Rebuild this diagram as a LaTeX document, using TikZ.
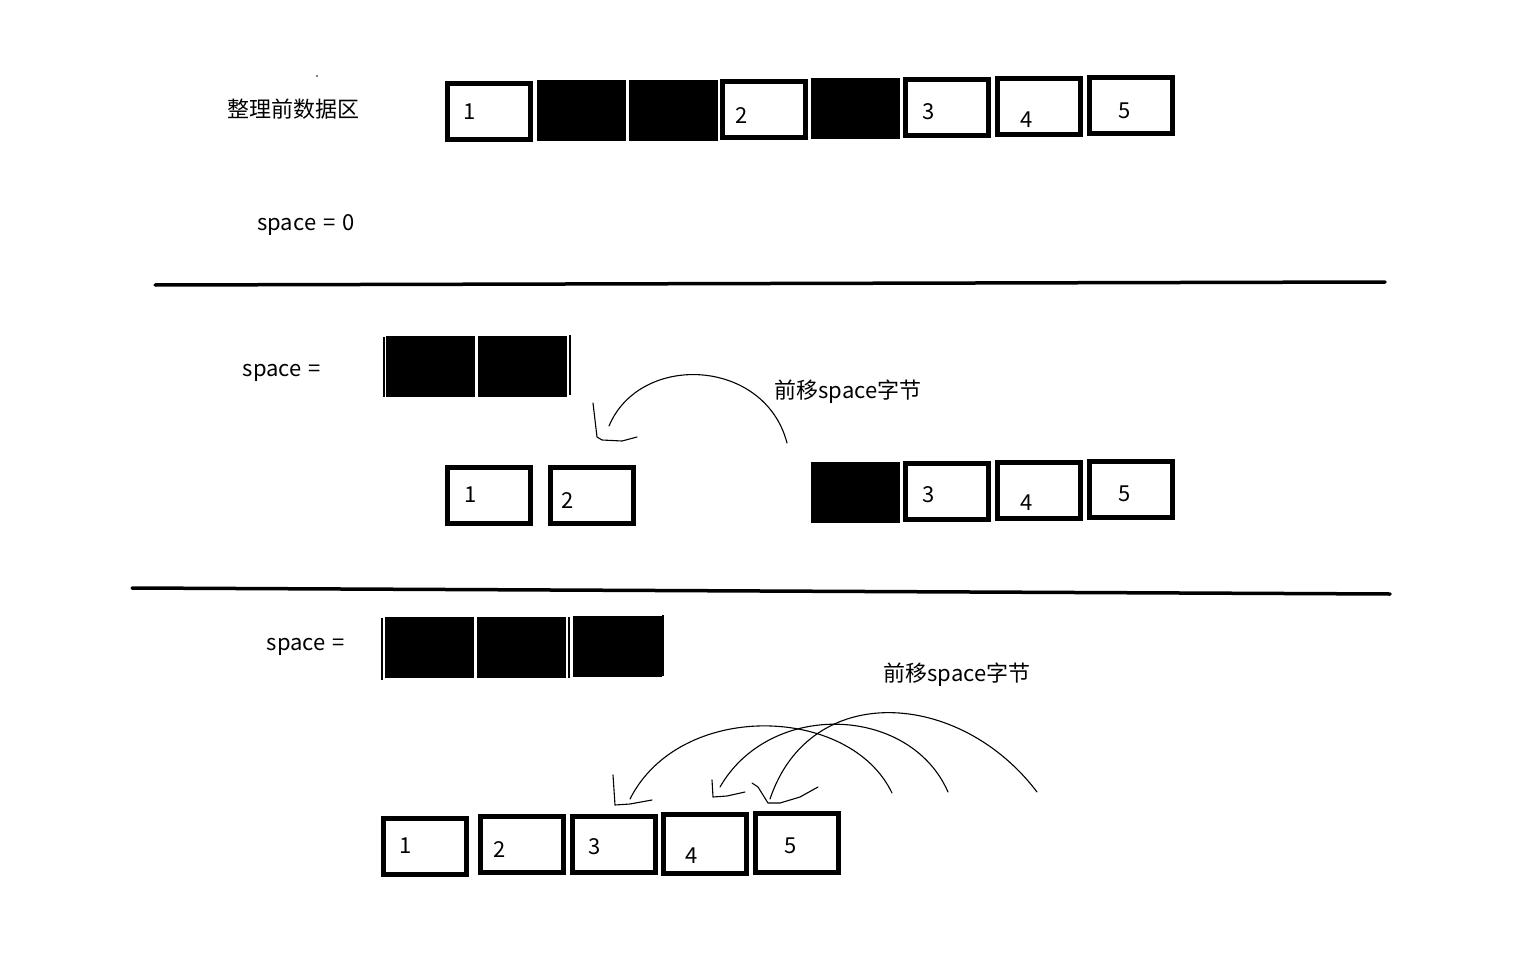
\documentclass[tikz,border=0pt]{standalone}
\usepackage{fontspec}
\newfontfamily\cjk{Noto Sans CJK SC}
\usetikzlibrary{calc}

\begin{document}
\begin{tikzpicture}[x=1pt,y=-1pt,line cap=round,
    every node/.style={font=\cjk\fontsize{22}{26}\selectfont},
    data cell/.style={draw,line width=5pt,minimum width=83pt,minimum height=56pt,inner sep=0pt},
    free cell/.style={fill=black,minimum width=89pt,minimum height=61pt,inner sep=0pt},
    edge bar/.style={line width=2.5pt,line cap=butt},
    rule/.style={line width=3.5pt},
    move/.style={line width=1.1pt},
    hook/.style={line width=1.1pt,line join=round}]
  \fill[white] (0,0) rectangle (1536,960);
  \useasboundingbox (0,0) rectangle (1536,960);

  % before: data area with holes
  \node (title) at (293,109) {整理前数据区};
  \fill (317,76) circle (0.8pt);
  \node (sp0) at (306,225) {space\hspace{7pt}=\hspace{7pt}0};
  \node[data cell,label={[xshift=-19pt,yshift=0pt]center:1}] (t1) at (489,112) {};
  \node[free cell] (h1) at (581,111) {};
  \node[free cell] (h2) at (673,111) {};
  \node[data cell,label={[xshift=-22pt,yshift=-6pt]center:2}] (t2) at (764,110) {};
  \node[free cell] (h3) at (855.5,109) {};
  \node[data cell,label={[xshift=-18pt,yshift=-4pt]center:3}] (t3) at (947,108) {};
  \node[data cell,label={[xshift=-12pt,yshift=-13pt]center:4}] (t4) at (1039,107) {};
  \node[data cell,label={[xshift=-6pt,yshift=-5pt]center:5}] (t5) at (1131,106) {};

  \draw[rule] (155,285) -- (1385,282);

  % step 1: two holes collected
  \node (sp1) at (282,373) {space\hspace{7pt}=};
  \node[free cell] (s1) at (430.5,366) {};
  \node[free cell] (s2) at (522,366) {};
  \draw[edge bar] (384,337) -- (384,397);
  \draw[edge bar] (570,335) -- (570,395);
  \node (mv1) at (848,392) {前移space字节};
  \node[data cell,label={[xshift=-18pt,yshift=0pt]center:1}] (m1) at (489,495) {};
  \node[data cell,label={[xshift=-24pt,yshift=-6pt]center:2}] (m2) at (592,495) {};
  \node[free cell] (mh) at (855.5,492) {};
  \node[data cell,label={[xshift=-18pt,yshift=-4pt]center:3}] (m3) at (947,491) {};
  \node[data cell,label={[xshift=-12pt,yshift=-13pt]center:4}] (m4) at (1039,490) {};
  \node[data cell,label={[xshift=-6pt,yshift=-4pt]center:5}] (m5) at (1131,489.5) {};
  \coordinate (a0) at (787,443);
  \coordinate (e0) at (609,426);
  \draw[move] (a0) .. controls (765,358) and (640,352) .. (e0);
  \draw[hook] (e0) ++(-16,-23) -- ++(4,34) -- ++(5,3) -- ++(20,1) -- ++(15,-4);

  \draw[rule] (132,588) -- (1390,594);

  % step 2: three holes collected
  \node (sp2) at (306,647) {space\hspace{7pt}=};
  \node[free cell] (r1) at (429.5,647.5) {};
  \node[free cell] (r2) at (521,647) {};
  \node[free cell] (r3) at (617,646) {};
  \draw[edge bar] (382,618) -- (382,680);
  \draw[edge bar] (569,617) -- (569,678);
  \draw[edge bar] (663,615) -- (663,676);
  \node (mv2) at (957,675) {前移space字节};
  \node[data cell,label={[xshift=-19pt,yshift=0.5pt]center:1}] (b1) at (425,846.5) {};
  \node[data cell,label={[xshift=-22pt,yshift=-5.5pt]center:2}] (b2) at (522,844.5) {};
  \node[data cell,label={[xshift=-19pt,yshift=-2.5pt]center:3}] (b3) at (614,844.5) {};
  \node[data cell,minimum height=59pt,label={[xshift=-13pt,yshift=-12.5pt]center:4}] (b4) at (705,843.5) {};
  \node[data cell,minimum height=59pt,label={[xshift=-6pt,yshift=-3.5pt]center:5}] (b5) at (797,842.5) {};
  \coordinate (a1) at (892,793);
  \coordinate (e1) at (630,799);
  \coordinate (a2) at (948,792);
  \coordinate (e2) at (720,787);
  \coordinate (a3) at (1037,792);
  \coordinate (e3) at (770,799);
  \draw[move] (a1) .. controls (850,705) and (680,700) .. (e1);
  \draw[move] (a2) .. controls (910,705) and (770,700) .. (e2);
  \draw[move] (a3) .. controls (960,690) and (810,680) .. (e3);
  \draw[hook] (e1) ++(-17,-24) -- ++(2,30) -- ++(15,-1) -- ++(22,-4);
  \draw[hook] (e2) ++(-8,-7) -- ++(1,17) -- ++(14,-1) -- ++(18,-4);
  \draw[hook] (e3) ++(-18,-16) -- ++(6,4) -- ++(5,8) -- ++(5,8) -- ++(12,0) -- ++(20,-6) -- ++(18,-10);
\end{tikzpicture}
\end{document}
